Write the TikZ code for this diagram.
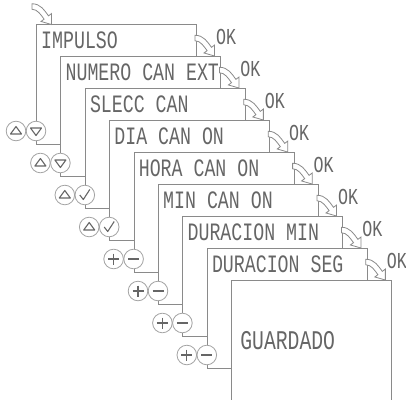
\documentclass[tikz,border=0pt]{standalone}
\usepackage{fontspec}
\usetikzlibrary{calc}
\newfontfamily\lcdfont[FakeStretch=0.73]{Liberation Mono}
\definecolor{linegray}{HTML}{8A8A8A}
\definecolor{ringgray}{HTML}{A3A3A3}
\definecolor{textgray}{HTML}{666666}
\tikzset{
  screen/.style={draw=linegray,fill=white,line width=1pt,minimum width=160pt,
    minimum height=120pt,inner sep=0pt,anchor=north west},
  lcd/.style={text=textgray,font=\lcdfont\fontsize{25}{25}\selectfont,inner sep=0pt,anchor=west},
  oklabel/.style={text=textgray,font=\lcdfont\fontsize{22.8}{22.8}\selectfont,inner sep=0pt},
  keyring/.style={draw=ringgray,fill=white,line width=0.8pt},
  keysym/.style={draw=textgray,line width=1.1pt,line join=round},
  okarrowline/.style={draw=linegray,fill=white,line width=0.8pt}
}
\newcommand{\okarrow}[1]{% {tail}
  \begin{scope}[shift={#1},scale=1.1]
    \filldraw[okarrowline] (0,-2.5) .. controls (8,-2.5) and (11.4,3.7) .. (15,8.5)
      -- (17.8,6.4) -- (17.8,16.4) -- (8.2,13.6) -- (11,11.5)
      .. controls (8,7.5) and (5,2.5) .. (0,2.5) -- cycle;
  \end{scope}
}
\newcommand{\keybtn}[2]{% {centre}{symbol}
  \begin{scope}[shift={#1}]
    \filldraw[keyring] (0,0) circle (9.8);
    #2
  \end{scope}
}
% Key symbols
\newcommand{\symup}{\draw[keysym] (-5.5,3) -- (0,-4.5) -- (5.5,3) -- cycle;}
\newcommand{\symdown}{\draw[keysym] (-5.5,-3) -- (0,4.5) -- (5.5,-3) -- cycle;}
\newcommand{\symok}{\draw[keysym] (-5,0) -- (-1.5,4.5) -- (5,-5.5);}
\newcommand{\symplus}{\draw[keysym] (-5.5,0) -- (5.5,0) (0,-5.5) -- (0,5.5);}
\newcommand{\symminus}{\draw[keysym] (-5.5,0) -- (5.5,0);}

\begin{document}
\begin{tikzpicture}[x=1pt,y=-1pt]
  \useasboundingbox (0,0) rectangle (406,399);
  % Screens
  \foreach \i/\txt in {1/IMPULSO, 2/NUMERO CAN EXT, 3/SLECC CAN, 4/DIA CAN ON,
      5/HORA CAN ON, 6/MIN CAN ON, 7/DURACION MIN, 8/DURACION SEG}{
    \pgfmathsetmacro{\bx}{36+24.4*(\i-1)}
    \pgfmathsetmacro{\by}{24+32*(\i-1)}
    \node[screen] (box\i) at (\bx,\by) {};
    \node[lcd] (txt\i) at ($(box\i.north west)+(5,16.5)$) {\txt};
  }
  \node[screen] (box9) at (231.2,280) {};
  \node[lcd,font=\lcdfont\fontsize{27}{27}\selectfont] (txt9) at ($(box9.west)+(9,0)$) {GUARDADO};
  % Keys
  \foreach \i/\ka/\kb in {1/\symup/\symdown, 2/\symup/\symdown, 3/\symup/\symok,
      4/\symup/\symok, 5/\symplus/\symminus, 6/\symplus/\symminus,
      7/\symplus/\symminus, 8/\symplus/\symminus}{
    \keybtn{($(box\i.south west)+(0,-14)$)}{\kb}
    \keybtn{($(box\i.south west)+(-20,-14)$)}{\ka}
  }
  % OK arrows
  \okarrow{($(box1.north west)+(-4,-17.5)$)}
  \foreach \i in {1,...,8}{
    \okarrow{($(box\i.north east)+(-2,14)$)}
    \node[oklabel] (ok\i) at ($(box\i.north east)+(29,12.5)$) {OK};
  }
\end{tikzpicture}
\end{document}
